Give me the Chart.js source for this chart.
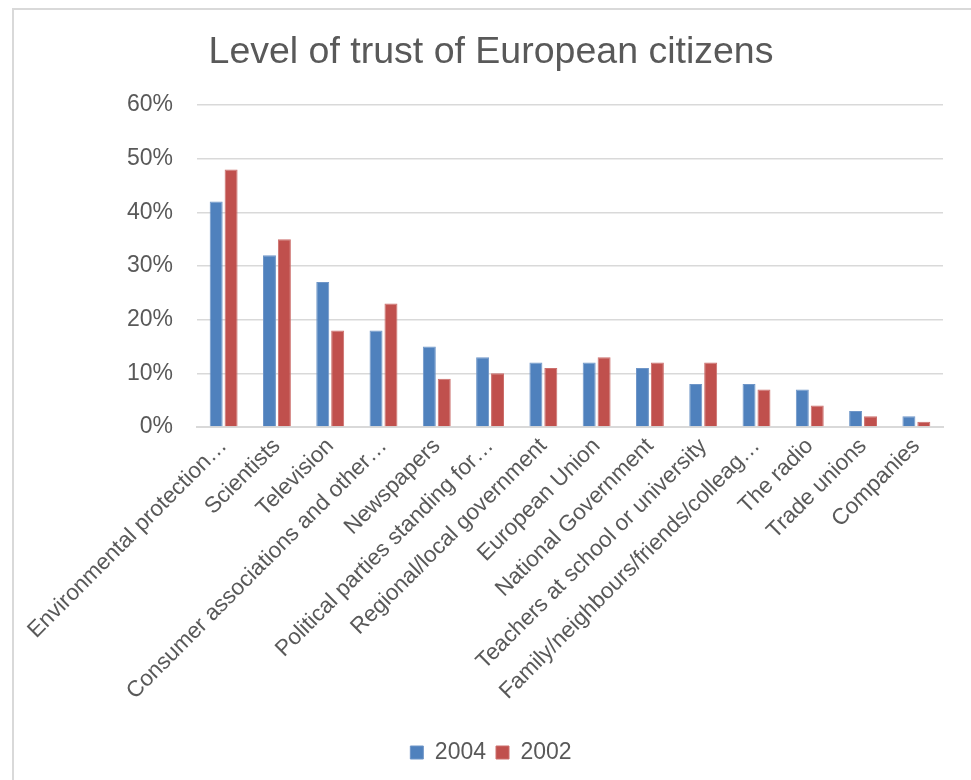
<!DOCTYPE html>
<html>
<head>
<meta charset="utf-8">
<script src="https://cdn.jsdelivr.net/npm/chart.js@4/dist/chart.umd.min.js"></script>
<style>
  html, body { margin: 0; padding: 0; background: #ffffff; }
  #frame { position: absolute; left: 12px; top: 8px; width: 959px; height: 772px;
           border-left: 2px solid #d9d9d9; border-top: 2px solid #d9d9d9; }
  #c { display: block; }
</style>
</head>
<body>
<div id="frame"><canvas id="c" width="957" height="770"></canvas></div>
<script>
const categories = [
  "Environmental protection\u2026",
  "Scientists",
  "Television",
  "Consumer associations and other\u2026",
  "Newspapers",
  "Political parties standing for\u2026",
  "Regional/local government",
  "European Union",
  "National Government",
  "Teachers at school or university",
  "Family/neighbours/friends/colleag\u2026",
  "The radio",
  "Trade unions",
  "Companies"
];
const values2004 = [42, 32, 27, 18, 15, 13, 12, 12, 11, 8, 8, 7, 3, 2];
const values2002 = [48, 35, 18, 23, 9, 10, 11, 13, 12, 12, 7, 4, 2, 1];
const seriesNames = ["2004", "2002"];
const yTicksMax = 60;
const yTickStep = 10;

const textColor = "#595959";
const fontFamily = "'Liberation Sans', Arial, sans-serif";

new Chart(document.getElementById("c"), {
  type: "bar",
  data: {
    labels: categories,
    datasets: [
      { label: seriesNames[0], data: values2004, backgroundColor: "#4f81bd",
        borderColor: "#6f96c8", borderWidth: 1,
        categoryPercentage: 0.56, barPercentage: 0.87 },
      { label: seriesNames[1], data: values2002, backgroundColor: "#c0504d",
        borderColor: "#cc6f6c", borderWidth: 1,
        categoryPercentage: 0.56, barPercentage: 0.87 }
    ]
  },
  options: {
    responsive: false,
    animation: false,
    layout: { padding: { left: 25, right: 28, top: 0, bottom: 6 } },
    plugins: {
      title: {
        display: true,
        text: "Level of trust of European citizens",
        color: textColor,
        font: { family: fontFamily, size: 37.5, weight: "normal" },
        padding: { top: 20, bottom: 30 }
      },
      legend: {
        position: "bottom",
        labels: {
          color: textColor,
          font: { family: fontFamily, size: 23 },
          boxWidth: 13, boxHeight: 13,
          padding: 10
        }
      },
      tooltip: { enabled: false }
    },
    scales: {
      x: {
        grid: { display: false, drawTicks: false },
        border: { display: true, color: "#d9d9d9", width: 2 },
        ticks: {
          color: textColor,
          font: { family: fontFamily, size: 22.5 },
          autoSkip: false,
          minRotation: 45, maxRotation: 45,
          padding: 6
        },
        afterFit: (s) => { s.height = 304; }
      },
      y: {
        min: 0, max: yTicksMax,
        grid: { color: "#d9d9d9", lineWidth: 1.5, drawTicks: false },
        border: { display: false },
        ticks: {
          stepSize: yTickStep,
          color: textColor,
          font: { family: fontFamily, size: 23 },
          padding: 24,
          callback: (v) => v + "%"
        },
        afterFit: (s) => { s.width = 158; }
      }
    }
  }
});
</script>
</body>
</html>
